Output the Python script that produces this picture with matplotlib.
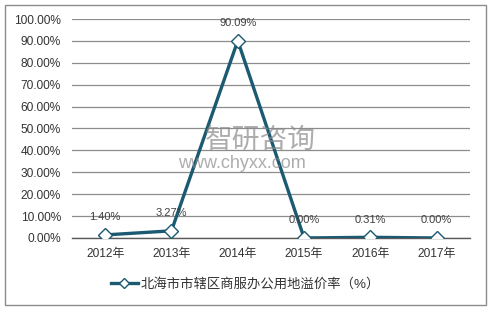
import matplotlib
matplotlib.use("Agg")
import matplotlib.pyplot as plt
from matplotlib.patches import Rectangle

plt.rcParams['font.family'] = ['Liberation Sans', 'Noto Sans CJK SC', 'DejaVu Sans']

# data
years = ['2012年', '2013年', '2014年', '2015年', '2016年', '2017年']
rates = [1.40, 3.27, 90.09, 0.00, 0.31, 0.00]
series_name = '北海市市辖区商服办公用地溢价率（%）'
yticks = [0, 10, 20, 30, 40, 50, 60, 70, 80, 90, 100]

line_color = '#1b5a70'

fig = plt.figure(figsize=(4.91, 3.10), dpi=100)
ax = fig.add_axes([0.1466, 0.2323, 0.8104, 0.7064])

x = list(range(len(years)))
ax.plot(x, rates, color=line_color, lw=2.4, marker='D', ms=7,
        markerfacecolor='white', markeredgecolor=line_color, markeredgewidth=1.0,
        label=series_name, zorder=3)

for xi, v in zip(x, rates):
    ax.annotate(f'{v:.2f}%', (xi, v), xytext=(0, 9), textcoords='offset points',
                ha='center', va='bottom', fontsize=8, color='#404040')

ax.set_xlim(-0.5, len(years) - 0.5)
ax.set_ylim(0, 100)
ax.set_yticks(yticks)
ax.set_yticklabels([f'{t:.2f}%' for t in yticks])
ax.set_xticks(x)
ax.set_xticklabels(years)
ax.tick_params(axis='both', length=0, labelsize=8.6, colors='#333333')
ax.tick_params(axis='y', pad=8)
ax.tick_params(axis='x', pad=7)
ax.yaxis.grid(True, color='#8c8c8c', lw=0.9)
ax.set_axisbelow(True)
for s in ['top', 'right', 'left']:
    ax.spines[s].set_visible(False)
ax.spines['bottom'].set_color('#595959')
ax.spines['bottom'].set_linewidth(1.0)

# watermark
fig.text(0.418, 0.545, '智研咨询', fontsize=20, color='#8a8a8a', alpha=0.7,
         ha='left', va='center')
fig.text(0.362, 0.474, 'www.chyxx.com', fontsize=13, color='#8a8a8a',
         alpha=0.7, ha='left', va='center')

leg = fig.legend(loc='center', bbox_to_anchor=(0.5, 0.083), frameon=False,
                 fontsize=9.6, handlelength=2.0, handletextpad=0.2, markerscale=0.75)
for t in leg.get_texts():
    t.set_color('#333333')

fig.patches.append(Rectangle((0.011, 0.016), 0.978, 0.968, transform=fig.transFigure,
                             fill=False, edgecolor='#8c8c8c', lw=1.0))

fig.savefig('out.png', dpi=100)
